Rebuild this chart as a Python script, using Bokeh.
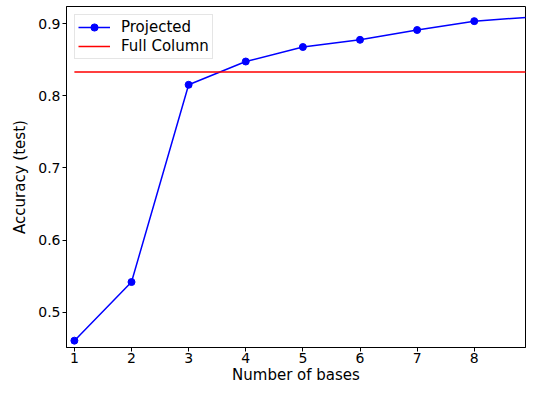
from bokeh.plotting import figure
from bokeh.models import Range1d, FixedTicker, Legend, LegendItem
from bokeh.embed import file_html
from bokeh.resources import INLINE

bases = [1, 2, 3, 4, 5, 6, 7, 8, 9]
projected = [0.4605, 0.5418, 0.8154, 0.8477, 0.8678, 0.8778, 0.8914, 0.9037, 0.9093]
full_column = [0.8331] * len(bases)
x_ticks = [1, 2, 3, 4, 5, 6, 7, 8]
y_ticks = [0.5, 0.6, 0.7, 0.8, 0.9]

FONT = "DejaVu Sans"

p = figure(width=526, height=386, output_backend="svg", toolbar_location=None,
           x_range=Range1d(0.862, 8.897), y_range=Range1d(0.451, 0.924),
           min_border_left=66, min_border_right=1, min_border_top=6, min_border_bottom=0)
p.background_fill_color = "white"
p.border_fill_color = "white"
p.outline_line_color = "black"
p.outline_line_width = 1
p.xgrid.visible = False
p.ygrid.visible = False

r_proj_line = p.line(bases, projected, line_color="#0000ff", line_width=1.5)
r_proj_pts = p.scatter(bases, projected, size=7, fill_color="#0000ff", line_color="#0000ff")
r_full = p.line(bases, full_column, line_color="#ff0000", line_width=1.5)

for ax in (p.xaxis[0], p.yaxis[0]):
    ax.major_label_text_font = FONT
    ax.major_label_text_font_size = "14px"
    ax.major_label_text_color = "black"
    ax.axis_label_text_font = FONT
    ax.axis_label_text_font_size = "15px"
    ax.axis_label_text_font_style = "normal"
    ax.axis_label_text_color = "black"
    ax.minor_tick_line_color = None
    ax.major_tick_out = 4
    ax.major_tick_in = 0
    ax.major_label_standoff = 2
    ax.axis_label_standoff = 2
    ax.axis_line_color = "black"
    ax.major_tick_line_color = "black"

p.xaxis[0].ticker = FixedTicker(ticks=x_ticks)
p.yaxis[0].ticker = FixedTicker(ticks=y_ticks)
p.xaxis[0].axis_label = "Number of bases"
p.yaxis[0].axis_label = "Accuracy (test)"
p.xaxis[0].axis_label_standoff = 0
p.xaxis[0].major_label_standoff = 1
p.yaxis[0].axis_label_standoff = 6

legend = Legend(items=[
    LegendItem(label="Projected", renderers=[r_proj_line, r_proj_pts]),
    LegendItem(label="Full Column", renderers=[r_full]),
], location="top_left")
legend.margin = 8
legend.padding = 3
legend.spacing = 1
legend.label_text_font = FONT
legend.label_text_font_size = "15px"
legend.label_text_color = "black"
legend.glyph_width = 32
legend.glyph_height = 18
legend.label_standoff = 11
legend.label_height = 18
legend.border_line_color = "#cccccc"
legend.border_line_width = 1
legend.background_fill_alpha = 0.8
p.add_layout(legend)

open("out.html", "w").write(file_html(p, INLINE))
